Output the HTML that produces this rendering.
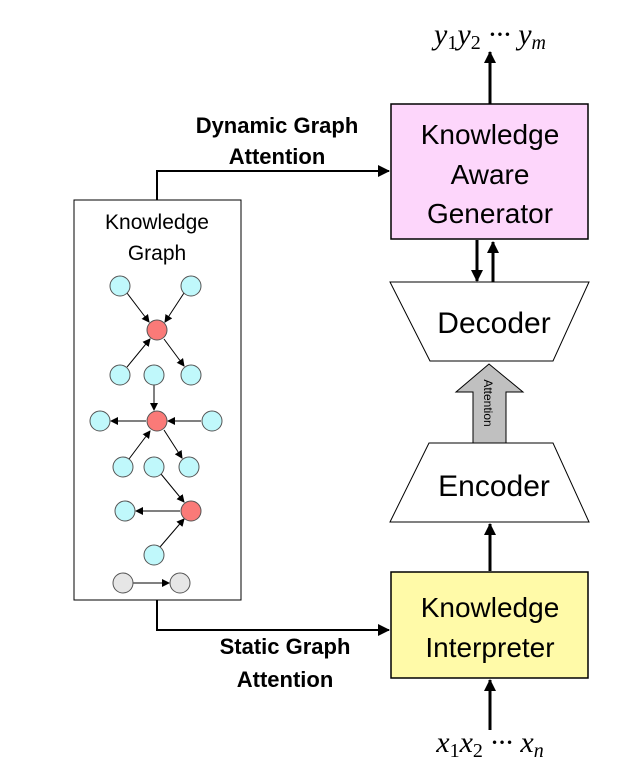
<!DOCTYPE html>
<html><head><style>
html,body{margin:0;padding:0;background:#fff;}
svg{display:block;}
text{font-family:"Liberation Sans",sans-serif;}
.m{font-family:"Liberation Serif",serif;font-style:italic;}
</style></head><body>
<svg width="628" height="784" viewBox="0 0 628 784" xmlns="http://www.w3.org/2000/svg">
<defs>
<marker id="a" markerWidth="8" markerHeight="8" refX="7" refY="4" orient="auto" markerUnits="userSpaceOnUse"><path d="M0,0 L8,4 L0,8 z" fill="#000"/></marker>
<marker id="b" markerWidth="12" markerHeight="12" refX="11" refY="6" orient="auto" markerUnits="userSpaceOnUse"><path d="M0,0 L12,6 L0,12 z" fill="#000"/></marker>
</defs>
<text x="490" y="44" class="m" font-size="30" text-anchor="middle">y<tspan font-size="20" font-style="normal" dy="5">1</tspan><tspan dy="-5">y</tspan><tspan font-size="20" font-style="normal" dy="5">2</tspan><tspan dy="-5"> ··· y</tspan><tspan font-size="20" dy="5">m</tspan></text>
<line x1="490" y1="104" x2="490" y2="52" stroke="#000" stroke-width="3" marker-end="url(#b)"/>
<rect x="391" y="104" width="197" height="135" fill="#fdd6fb" stroke="#000" stroke-width="1.5"/>
<text x="490" y="144" font-size="28" text-anchor="middle">Knowledge</text>
<text x="490" y="184" font-size="28" text-anchor="middle">Aware</text>
<text x="490" y="223" font-size="28" text-anchor="middle">Generator</text>
<line x1="477" y1="240" x2="477" y2="281" stroke="#000" stroke-width="3" marker-end="url(#b)"/>
<line x1="493" y1="282" x2="493" y2="242" stroke="#000" stroke-width="3" marker-end="url(#b)"/>
<polygon points="390,282 589,282 553,361 430,361" fill="#fff" stroke="#000" stroke-width="1"/>
<text x="494" y="333" font-size="30" text-anchor="middle">Decoder</text>
<polygon points="473,443 506,443 506,392 523,392 489,364 456,392 473,392" fill="#c0c0c0" stroke="#000" stroke-width="1"/>
<text transform="translate(484,403) rotate(90)" font-size="12" text-anchor="middle">Attention</text>
<polygon points="429,443 553,443 589,522 390,522" fill="#fff" stroke="#000" stroke-width="1"/>
<text x="494" y="496" font-size="30" text-anchor="middle">Encoder</text>
<line x1="490" y1="571" x2="490" y2="524" stroke="#000" stroke-width="3" marker-end="url(#b)"/>
<rect x="391" y="572" width="197" height="106" fill="#fffaa8" stroke="#000" stroke-width="1.5"/>
<text x="490" y="617" font-size="28" text-anchor="middle">Knowledge</text>
<text x="490" y="657" font-size="28" text-anchor="middle">Interpreter</text>
<line x1="490" y1="730" x2="490" y2="680" stroke="#000" stroke-width="3" marker-end="url(#b)"/>
<text x="490" y="752" class="m" font-size="30" text-anchor="middle">x<tspan font-size="20" font-style="normal" dy="5">1</tspan><tspan dy="-5">x</tspan><tspan font-size="20" font-style="normal" dy="5">2</tspan><tspan dy="-5"> ··· x</tspan><tspan font-size="20" dy="5">n</tspan></text>
<polyline points="157,200 157,171 389,171" fill="none" stroke="#000" stroke-width="2" marker-end="url(#b)"/>
<polyline points="157,600 157,630 389,630" fill="none" stroke="#000" stroke-width="2" marker-end="url(#b)"/>
<text x="277" y="133" font-size="22" font-weight="bold" text-anchor="middle">Dynamic Graph</text>
<text x="277" y="164" font-size="22" font-weight="bold" text-anchor="middle">Attention</text>
<text x="285" y="654" font-size="22" font-weight="bold" text-anchor="middle">Static Graph</text>
<text x="285" y="687" font-size="22" font-weight="bold" text-anchor="middle">Attention</text>
<rect x="74" y="200" width="167" height="400" fill="#fff" stroke="#000" stroke-width="1"/>
<text x="157" y="229" font-size="21" text-anchor="middle">Knowledge</text>
<text x="157" y="260" font-size="21" text-anchor="middle">Graph</text>
<g stroke="#000" stroke-width="1" marker-end="url(#a)">
<line x1="127" y1="293" x2="149" y2="322"/>
<line x1="184" y1="293" x2="165" y2="322"/>
<line x1="127" y1="367" x2="150" y2="339"/>
<line x1="164" y1="339" x2="184" y2="366"/>
<line x1="154" y1="385" x2="154" y2="410"/>
<line x1="146" y1="421" x2="111" y2="421"/>
<line x1="201" y1="421" x2="168" y2="421"/>
<line x1="129" y1="459" x2="150" y2="431"/>
<line x1="164" y1="430" x2="182" y2="458"/>
<line x1="161" y1="474" x2="184" y2="502"/>
<line x1="180" y1="511" x2="136" y2="511"/>
<line x1="160" y1="547" x2="184" y2="519"/>
<line x1="133" y1="583" x2="169" y2="583"/>
</g>
<g stroke="#555" stroke-width="1">
<g fill="#c0f8fb">
<circle cx="120" cy="286" r="10"/><circle cx="191" cy="286" r="10"/>
<circle cx="120" cy="375" r="10"/><circle cx="154" cy="375" r="10"/><circle cx="191" cy="375" r="10"/>
<circle cx="100" cy="421" r="10"/><circle cx="212" cy="421" r="10"/>
<circle cx="123" cy="467" r="10"/><circle cx="154" cy="467" r="10"/><circle cx="189" cy="467" r="10"/>
<circle cx="125" cy="511" r="10"/><circle cx="154" cy="555" r="10"/>
</g>
<g fill="#fa7a78">
<circle cx="157" cy="330" r="10"/><circle cx="157" cy="421" r="10"/><circle cx="191" cy="511" r="10"/>
</g>
<g fill="#e6e6e6">
<circle cx="123" cy="583" r="10"/><circle cx="180" cy="583" r="10"/>
</g>
</g>
</svg>
</body></html>
